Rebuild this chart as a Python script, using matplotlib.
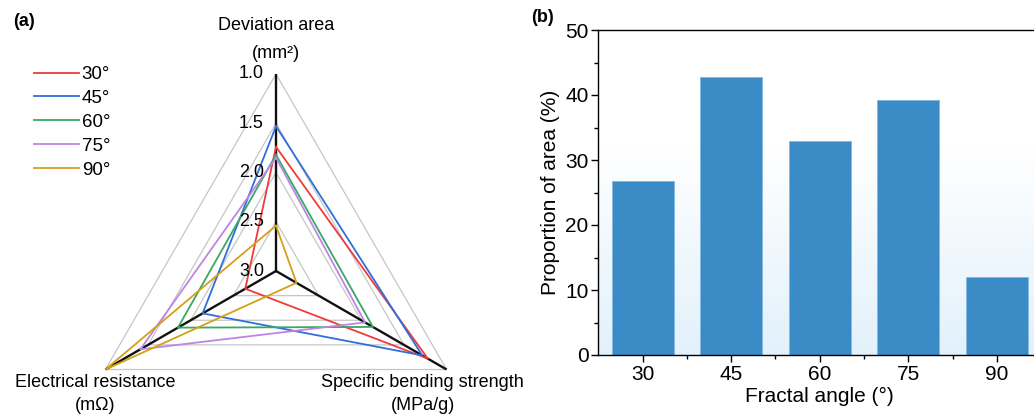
import numpy as np
import matplotlib
matplotlib.use('Agg')
import matplotlib.pyplot as plt
from matplotlib.lines import Line2D

plt.rcParams['font.family'] = ['Liberation Sans', 'DejaVu Sans']

# ---------------- data ----------------
series_labels = ['30°', '45°', '60°', '75°', '90°']
series_colors = ['#EE3B3B', '#2F6FDB', '#38A863', '#BC85E6', '#D4A017']
# Deviation area (mm^2): axis runs 3.0 (centre) -> 1.0 (outer vertex)
deviation_area = [1.74, 1.53, 1.82, 1.85, 2.54]
# Other two radar axes, relative position (0 = centre, 1 = outer vertex)
bending_rel = [0.89, 0.857, 0.568, 0.522, 0.12]
resistance_rel = [0.18, 0.43, 0.575, 0.795, 1.0]
dev_ticks = [1.0, 1.5, 2.0, 2.5, 3.0]
ring_levels = [0.25, 0.5, 0.75, 1.0]

fractal_angle = ['30', '45', '60', '75', '90']
area_prop = [26.7, 42.7, 32.9, 39.3, 12.0]

W, H = 1034, 416
fig = plt.figure(figsize=(W / 100, H / 100), dpi=100)

# ---------------- (a) radar ----------------
cx, cy, R = 276, H - 271, 197
ax = fig.add_axes([(cx - R) / W, (cy - R) / H, 2 * R / W, 2 * R / H], projection='polar')
ax.patch.set_alpha(0)
ax.grid(False)
ax.set_xticks([])
ax.set_yticks([])
ax.spines['polar'].set_visible(False)
ax.set_ylim(0, 1)

theta = [np.pi / 2, -np.pi / 6, 7 * np.pi / 6]   # top, bottom-right, bottom-left
th_closed = theta + [theta[0]]


def dev_to_r(v):
    return (3.0 - v) / 2.0


for lvl in ring_levels:
    ax.plot(th_closed, [lvl] * 4, color='#c6c6c6', lw=0.9, zorder=1)

handles = []
for i, lab in enumerate(series_labels):
    r = [dev_to_r(deviation_area[i]), bending_rel[i], resistance_rel[i]]
    ax.plot(th_closed, r + [r[0]], color=series_colors[i], lw=1.3, zorder=3)
    handles.append(Line2D([], [], color=series_colors[i], lw=1.3, label=lab))

for t in theta:
    ax.plot([t, t], [0, 1], color='#111111', lw=1.7, zorder=2)

for v in dev_ticks:
    ax.annotate(f'{v:.1f}', xy=(np.pi / 2, dev_to_r(v)), xytext=(-12, 0),
                textcoords='offset pixels', ha='right', va='center', fontsize=13,
                zorder=4)

fs_t = 13
ax.annotate('Deviation area', xy=(np.pi / 2, 1), xytext=(0, 48), textcoords='offset pixels',
            ha='center', va='center', fontsize=fs_t)
ax.annotate('(mm²)', xy=(np.pi / 2, 1), xytext=(0, 21), textcoords='offset pixels',
            ha='center', va='center', fontsize=fs_t)
ax.annotate('Electrical resistance', xy=(7 * np.pi / 6, 1), xytext=(-10, -13),
            textcoords='offset pixels', ha='center', va='center', fontsize=fs_t)
ax.annotate('(mΩ)', xy=(7 * np.pi / 6, 1), xytext=(-10, -36),
            textcoords='offset pixels', ha='center', va='center', fontsize=fs_t)
ax.annotate('Specific bending strength', xy=(-np.pi / 6, 1), xytext=(-24, -13),
            textcoords='offset pixels', ha='center', va='center', fontsize=fs_t)
ax.annotate('(MPa/g)', xy=(-np.pi / 6, 1), xytext=(-24, -36),
            textcoords='offset pixels', ha='center', va='center', fontsize=fs_t)

fig.legend(handles=handles, loc='upper left', bbox_to_anchor=(34 / W, 1 - 66 / H),
           frameon=False, fontsize=13.5, handlelength=2.4, handletextpad=0.15,
           labelspacing=0.36, borderpad=0, borderaxespad=0)

fig.text(13 / W, 1 - 22 / H, '(a)', fontsize=13, fontweight='bold', va='center', ha='left')
fig.text(531 / W, 1 - 17 / H, '(b)', fontsize=13, fontweight='bold', va='center', ha='left')

# ---------------- (b) bars ----------------
left, top, bottom = 598.3, 30, 355
ax2 = fig.add_axes([left / W, (H - bottom) / H, 443 / W, (bottom - top) / H])
x = np.arange(len(fractal_angle))

# background gradient (white at top -> light blue at bottom)
yy = np.linspace(0, 50, 300)
t = np.clip((32 - yy) / 32, 0, 1)[:, None]
c_top = np.array([1.0, 1.0, 1.0])
c_bot = np.array([0.885, 0.945, 0.985])
img = (c_top * (1 - t) + c_bot * t)[:, None, :] * np.ones((1, 2, 1))
ax2.imshow(img, extent=(-0.5, 4.5, 0, 50), aspect='auto', origin='lower', zorder=0)

ax2.bar(x, area_prop, width=0.7, color='#3B8BC7', edgecolor='#86B9E0', lw=0.7, zorder=2)
ax2.set_xlim(-0.5, 4.5)
ax2.set_ylim(0, 50)
ax2.set_xticks(x)
ax2.set_xticklabels(fractal_angle)
ax2.set_xticks(x[:-1] + 0.5, minor=True)
ax2.set_yticks(np.arange(0, 51, 10))
ax2.set_yticks(np.arange(5, 50, 10), minor=True)
ax2.tick_params(which='major', direction='out', length=5, width=1, labelsize=15, pad=2)
ax2.tick_params(which='minor', direction='out', length=3, width=1)
ax2.set_xlabel('Fractal angle (°)', fontsize=15, labelpad=2)
ax2.set_ylabel('Proportion of area (%)', fontsize=15, labelpad=4)
for s in ax2.spines.values():
    s.set_linewidth(1)

fig.savefig('out.png', dpi=100)
